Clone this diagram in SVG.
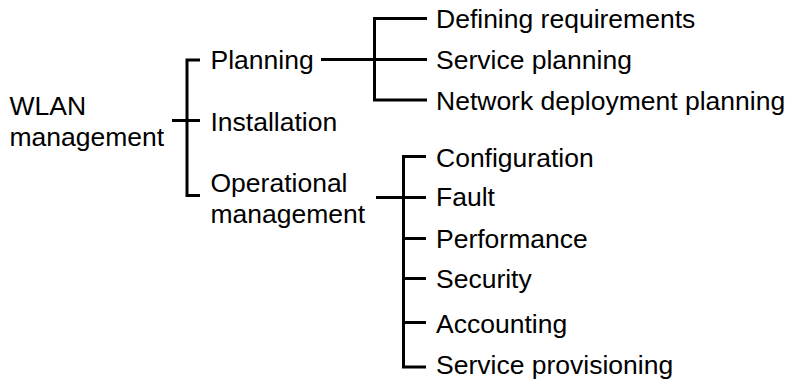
<svg xmlns="http://www.w3.org/2000/svg" width="787" height="383" viewBox="0 0 787 383">
  <style>
    text { font-family: "Liberation Sans", Arial, sans-serif; font-size: 26.5px; fill: #000; }
    .br { fill: none; stroke: #000; stroke-width: 3; stroke-linecap: butt; stroke-linejoin: miter; }
  </style>
  <rect width="787" height="383" fill="#fff"/>

  <!-- tree connectors -->
  <g id="connectors">
    <!-- root bracket -->
    <path class="br" d="M172 120.5 H187 M200 60 H187 V195.5 H200 M187 120.5 H200"/>
    <!-- planning bracket -->
    <path class="br" d="M321 59.5 H374.5 M427 18.5 H374.5 V100 H427 M374.5 59.5 H427"/>
    <!-- operational management bracket -->
    <path class="br" d="M376 197.5 H403.5 M426 156.5 H403.5 V367 H426 M403.5 197.5 H426 M403.5 238.5 H426 M403.5 278.5 H426 M403.5 322.5 H426"/>
    <path class="br" stroke-width="4" d="M403.5 197.5 V326"/>
  </g>

  <g id="root">
    <text x="9.5" y="114.5">WLAN</text>
    <text x="9.5" y="145.5">management</text>
  </g>

  <g id="planning"><text x="210.5" y="68.5">Planning</text></g>
  <g id="installation"><text x="210.5" y="130.5">Installation</text></g>
  <g id="operational">
    <text x="210.5" y="191.5">Operational</text>
    <text x="210.5" y="222.5">management</text>
  </g>

  <g id="defining"><text x="436" y="28">Defining requirements</text></g>
  <g id="service-planning"><text x="436" y="69">Service planning</text></g>
  <g id="network-deployment"><text x="436" y="110">Network deployment planning</text></g>

  <g id="configuration"><text x="436" y="166.5">Configuration</text></g>
  <g id="fault"><text x="436" y="206">Fault</text></g>
  <g id="performance"><text x="436" y="248">Performance</text></g>
  <g id="security"><text x="436" y="288">Security</text></g>
  <g id="accounting"><text x="436" y="332.5">Accounting</text></g>
  <g id="service-provisioning"><text x="436" y="373.5">Service provisioning</text></g>
</svg>
